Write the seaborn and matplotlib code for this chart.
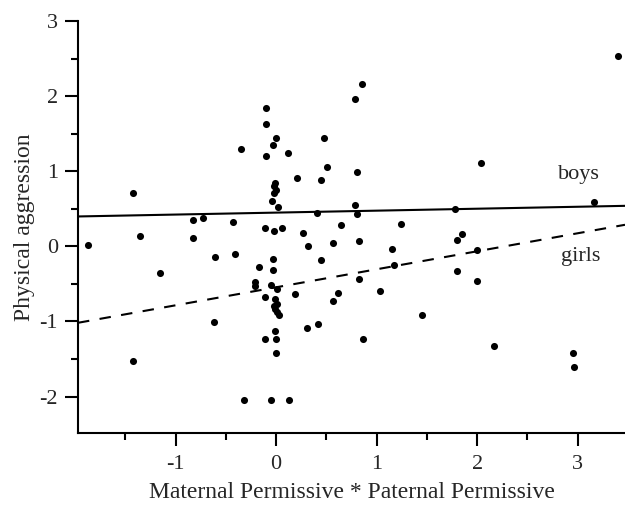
import numpy as np
import pandas as pd
import matplotlib
matplotlib.use('Agg')
import matplotlib.pyplot as plt
import seaborn as sns
from matplotlib.ticker import MultipleLocator

# ---- data ----
x_vals = [-1.87, -1.42, -1.35, -1.42, -1.15, -0.83, -0.73, -0.83, -0.61, -0.62,
          -0.43, -0.41, -0.35, -0.32, -0.10, -0.10, 0.00, -0.03, -0.10, 0.12,
          0.21, -0.01, -0.02, 0.00, -0.02, -0.04, 0.02, -0.11, -0.02, 0.06,
          0.27, 0.32, -0.03, 0.45, 0.41, 0.45, 0.48, 0.51, -0.17, -0.03,
          -0.21, -0.21, -0.05, 0.01, -0.11, 0.19, -0.01, 0.01, -0.02, -0.01,
          0.01, 0.03, 0.31, 0.42, -0.01, -0.11, 0.00, 0.00, -0.05, 0.13,
          0.85, 0.78, 0.80, 0.78, 0.80, 0.65, 1.24, 0.57, 0.82, 1.15,
          3.40, 2.04, 1.78, 3.16, 1.80, 1.85, 2.00, 1.17, 1.80, 2.00,
          0.82, 1.03, 0.62, 0.57, 1.45, 0.86, 2.17, 2.95, 2.96]
y_vals = [0.02, 0.71, 0.14, -1.53, -0.36, 0.35, 0.38, 0.11, -0.14, -1.01,
          0.32, -0.10, 1.30, -2.05, 1.84, 1.63, 1.44, 1.35, 1.20, 1.24,
          0.91, 0.85, 0.81, 0.75, 0.71, 0.60, 0.53, 0.25, 0.20, 0.24,
          0.18, 0.00, -0.17, -0.18, 0.45, 0.88, 1.44, 1.06, -0.28, -0.31,
          -0.48, -0.53, -0.51, -0.57, -0.68, -0.64, -0.70, -0.77, -0.80, -0.84,
          -0.87, -0.92, -1.09, -1.04, -1.13, -1.23, -1.23, -1.42, -2.05, -2.05,
          2.17, 1.97, 0.99, 0.55, 0.43, 0.28, 0.30, 0.05, 0.07, -0.03,
          2.53, 1.11, 0.50, 0.59, 0.09, 0.16, -0.05, -0.25, -0.33, -0.46,
          -0.43, -0.59, -0.62, -0.73, -0.91, -1.23, -1.33, -1.42, -1.61]

# regression lines (intercept, slope)
groups = ['boys', 'girls']
intercepts = [0.45, -0.545]
slopes = [0.026, 0.24]

x_lim = (-1.97, 3.47)
y_lim = (-2.49, 3.0)

df = pd.DataFrame({'x': x_vals, 'y': y_vals})

sns.set_style('ticks')
plt.rcParams['font.family'] = ['Liberation Serif', 'DejaVu Serif']
plt.rcParams['axes.unicode_minus'] = False

fig = plt.figure(figsize=(6.25, 5.05), dpi=100)
ax = fig.add_axes([0.1248, 0.142, 0.8752, 0.816])

sns.scatterplot(data=df, x='x', y='y', color='black', s=26, linewidth=0, ax=ax)

xs = np.array(x_lim)
line_styles = ['-', (0, (5.5, 5))]
for g, b0, b1, ls in zip(groups, intercepts, slopes, line_styles):
    line_df = pd.DataFrame({'x': xs, 'y': b0 + b1 * xs})
    sns.lineplot(data=line_df, x='x', y='y', color='black', linewidth=1.5,
                 linestyle=ls, ax=ax)

ax.text(3.01, 0.96, 'boys', fontsize=16, ha='center', va='center')
ax.text(3.03, -0.14, 'girls', fontsize=16, ha='center', va='center')

ax.set_xlim(*x_lim)
ax.set_ylim(*y_lim)
ax.xaxis.set_major_locator(MultipleLocator(1))
ax.xaxis.set_minor_locator(MultipleLocator(0.5))
ax.yaxis.set_major_locator(MultipleLocator(1))
ax.yaxis.set_minor_locator(MultipleLocator(0.5))
ax.tick_params(which='major', length=9.5, width=1.5, labelsize=16, color='black')
ax.tick_params(which='minor', length=5, width=1.5, color='black')
ax.tick_params(axis='x', which='major', pad=6)
ax.tick_params(axis='y', which='major', pad=5)

for side in ['top', 'right']:
    ax.spines[side].set_visible(False)
for side in ['left', 'bottom']:
    ax.spines[side].set_linewidth(1.5)
    ax.spines[side].set_color('black')

ax.set_xlabel('Maternal Permissive * Paternal Permissive', fontsize=17, labelpad=6)
ax.set_ylabel('Physical aggression', fontsize=17, labelpad=3)

fig.savefig('out.png', dpi=100)
